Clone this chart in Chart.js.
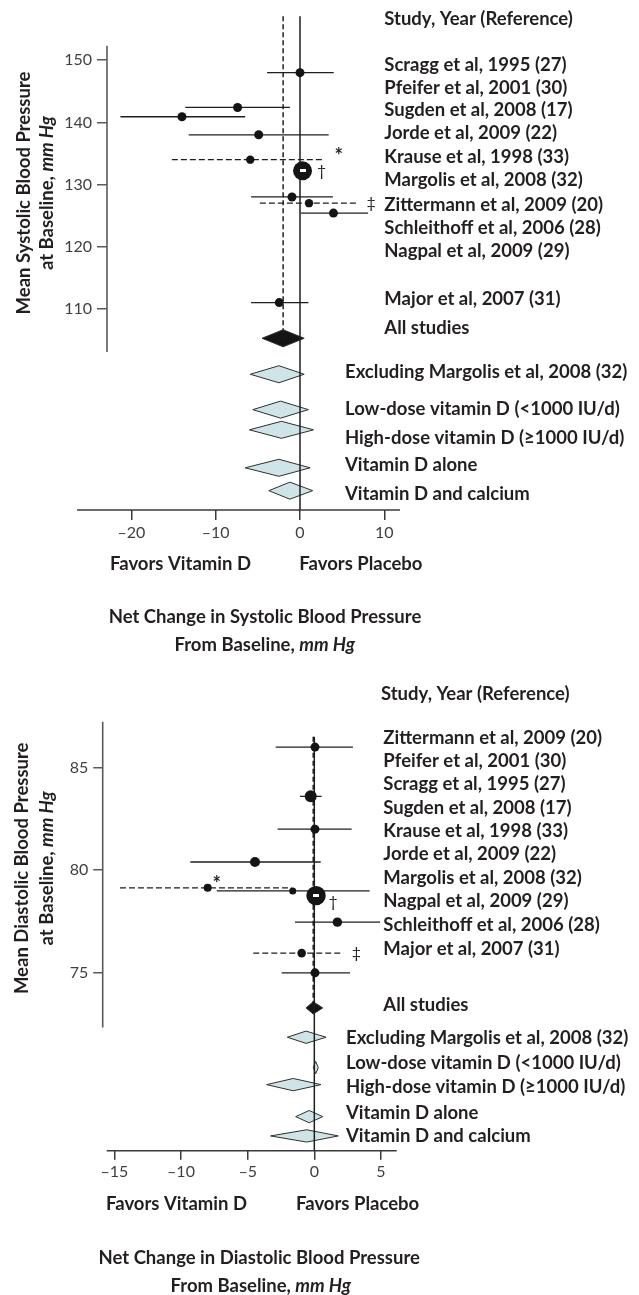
<!DOCTYPE html>
<html>
<head>
<meta charset="utf-8">
<title>Vitamin D and blood pressure</title>
<script src="https://cdn.jsdelivr.net/npm/chart.js@4.4.1/dist/chart.umd.min.js"></script>
<style>
  html, body { margin: 0; background: #fff; }
  #page { position: relative; width: 639px; height: 1295px; overflow: hidden; }
  canvas { position: absolute; left: 0; }
  #systolic { top: 0; }
  #diastolic { top: 650px; }
</style>
</head>
<body>
<div id="page">
  <canvas id="systolic" width="639" height="662"></canvas>
  <canvas id="diastolic" width="639" height="645"></canvas>
</div>
<script>
// ---- systolic panel ----
const sysStudies = ["Scragg et al, 1995 (27)", "Pfeifer et al, 2001 (30)", "Sugden et al, 2008 (17)",
  "Jorde et al, 2009 (22)", "Krause et al, 1998 (33)", "Margolis et al, 2008 (32)",
  "Zittermann et al, 2009 (20)", "Schleithoff et al, 2006 (28)", "Nagpal et al, 2009 (29)",
  "Major et al, 2007 (31)"];
const sysBaseline = [148.0, 142.4, 140.9, 138.0, 134.0, 132.2, 128.0, 127.0, 125.4, 111.0];
const sysEffect   = [0.0, -7.4, -14.0, -4.9, -5.9, 0.3, -0.95, 1.07, 3.97, -2.46];
const sysLower    = [-3.9, -13.6, -21.3, -13.2, -15.2, -0.7, -5.8, -4.76, 0.1, -5.8];
const sysUpper    = [4.0, -1.2, -6.5, 3.4, 2.7, 1.3, 3.9, 6.9, 8.06, 1.0];

// ---- diastolic panel ----
const diaStudies = ["Zittermann et al, 2009 (20)", "Pfeifer et al, 2001 (30)", "Scragg et al, 1995 (27)",
  "Sugden et al, 2008 (17)", "Krause et al, 1998 (33)", "Jorde et al, 2009 (22)",
  "Margolis et al, 2008 (32)", "Nagpal et al, 2009 (29)", "Schleithoff et al, 2006 (28)",
  "Major et al, 2007 (31)"];
const diaBaseline = [86.0, 83.6, 82.0, 80.4, 79.14, 78.99, 78.76, 77.47, 75.96, 75.0];
const diaEffect   = [0.05, -0.27, 0.05, -4.45, -8.0, -1.62, 0.13, 1.73, -0.95, 0.05];
const diaLower    = [-2.9, -1.07, -2.75, -9.3, -14.58, -7.32, -0.4, -1.45, -4.58, -2.45];
const diaUpper    = [2.9, 0.55, 2.8, 0.48, -1.7, 4.15, 0.6, 4.93, 2.18, 2.68];

// pooled / subgroup estimates (row = position on the baseline axis)
const summaryNames = ["All studies", "Excluding Margolis et al, 2008 (32)",
  "Low-dose vitamin D (<1000 IU/d)", "High-dose vitamin D (\u22651000 IU/d)",
  "Vitamin D alone", "Vitamin D and calcium"];
const sysSummaryRow  = [105.26, 99.47, 93.78, 90.53, 84.42, 80.74];
const sysSummaryMid  = [-2.0, -2.5, -2.3, -2.2, -2.5, -1.2];
const sysSummaryLow  = [-4.5, -5.9, -5.6, -6.0, -6.5, -3.7];
const sysSummaryHigh = [0.5, 0.5, 1.0, 1.6, 1.2, 1.5];
const diaSummaryRow  = [73.29, 71.86, 70.38, 69.55, 67.99, 67.05];
const diaSummaryMid  = [-0.08, -0.62, 0.1, -1.58, -0.38, -0.57];
const diaSummaryLow  = [-0.62, -2.03, -0.07, -3.58, -1.4, -3.28];
const diaSummaryHigh = [0.63, 0.88, 0.3, 0.5, 0.63, 1.8];

const sysYTicks = [110, 120, 130, 140, 150];
const sysXTicks = [-20, -10, 0, 10];
const diaYTicks = [75, 80, 85];
const diaXTicks = [-15, -10, -5, 0, 5];

// styling
const sysDashed = [false, false, false, false, true, false, false, true, false, false];
const diaDashed = [false, false, false, false, true, false, false, false, true, false];
const sysDotSize = [4.5, 4.5, 4.5, 4.5, 4.2, 9.5, 4.5, 4.2, 4.5, 4.5];
const diaDotSize = [4.5, 6, 4.5, 5, 4, 3.5, 9.7, 4.7, 4.3, 4.5];

const ink = "#231f20";
const boldFont = italic => (italic ? "italic " : "") + "700 18.5px Lato";

function drawParts(ctx, parts, x, y, align) {
  const widths = parts.map(p => { ctx.font = boldFont(p.i); return ctx.measureText(p.t).width; });
  const total = widths.reduce((a, b) => a + b, 0);
  let cx = align === "center" ? x - total / 2 : x;
  ctx.textAlign = "left";
  ctx.textBaseline = "alphabetic";
  parts.forEach((p, k) => { ctx.font = boldFont(p.i); ctx.fillText(p.t, cx, y); cx += widths[k]; });
}

function makeDecor(d) {
  return {
    id: "forestDecor",
    beforeDatasetsDraw(chart) {
      const { ctx, chartArea: a, scales: { x, y } } = chart;
      ctx.save();
      ctx.lineWidth = 1.6;
      ctx.strokeStyle = "#5a5a5a";
      ctx.beginPath();
      ctx.moveTo(a.left, y.getPixelForValue(d.yAxisSpan[0]));
      ctx.lineTo(a.left, y.getPixelForValue(d.yAxisSpan[1]));
      ctx.stroke();
      ctx.strokeStyle = "#3a3a3a";
      ctx.beginPath();
      ctx.moveTo(x.getPixelForValue(d.xAxisFrom), a.bottom);
      ctx.lineTo(a.right, a.bottom);
      ctx.stroke();
      ctx.restore();
    },
    afterDatasetsDraw(chart) {
      const { ctx, scales: { x, y } } = chart;
      ctx.save();
      // white bar inside the largest study marker
      const bx = x.getPixelForValue(d.effect[d.bigIndex]);
      const by = y.getPixelForValue(d.baseline[d.bigIndex]);
      ctx.fillStyle = "#fff";
      ctx.fillRect(Math.round(bx - 3), Math.round(by - 1.5), 6, 3);
      // footnote marks
      ctx.fillStyle = ink;
      ctx.textAlign = "center";
      ctx.textBaseline = "middle";
      d.marks.forEach(m => {
        const vx = m.at === "hi" ? d.upper[m.i] : d.effect[m.i];
        ctx.font = m.s === "*" ? "700 20px Lato" : "400 16px Lato";
        ctx.fillText(m.s, x.getPixelForValue(vx) + m.dx, y.getPixelForValue(d.baseline[m.i]) + m.dy);
      });
      ctx.restore();
    },
    afterDraw(chart) {
      const { ctx } = chart;
      ctx.save();
      ctx.fillStyle = ink;
      d.texts.forEach(t => {
        if (t.rot) {
          ctx.save();
          ctx.translate(t.x, t.y);
          ctx.rotate(-Math.PI / 2);
          drawParts(ctx, t.parts, 0, 0, "center");
          ctx.restore();
        } else {
          drawParts(ctx, t.parts, t.x, t.y + 6.8, t.align || "left");
        }
      });
      ctx.restore();
    }
  };
}

function drawForest(id, d) {
  const datasets = [];
  d.summaryRow.forEach((row, i) => {
    const lo = d.summaryLow[i], mid = d.summaryMid[i], hi = d.summaryHigh[i], h = d.diamondHalf;
    datasets.push({
      data: [{x: lo, y: row}, {x: mid, y: row + h}, {x: hi, y: row}, {x: mid, y: row - h}, {x: lo, y: row}],
      showLine: true, fill: "shape", tension: 0,
      backgroundColor: i === 0 ? "#141414" : "#cfe4e7",
      borderColor: "#2e2e2e", borderWidth: 1, pointRadius: 0, order: 6
    });
  });
  datasets.push({
    data: [{x: 0, y: d.refTop}, {x: 0, y: d.yMin}],
    showLine: true, borderColor: "#1e1e1e", borderWidth: 1.5, pointRadius: 0, order: 3
  });
  datasets.push({
    data: [{x: d.summaryMid[0], y: d.refTop}, {x: d.summaryMid[0], y: d.pooledBottom}],
    showLine: true, borderColor: "#1e1e1e", borderWidth: 1.5, borderDash: [5, 3], pointRadius: 0, order: 3
  });
  d.baseline.forEach((b, i) => {
    datasets.push({
      data: [{x: d.lower[i], y: b}, {x: d.upper[i], y: b}],
      showLine: true, borderColor: "#1e1e1e", borderWidth: 1.3,
      borderDash: d.dashed[i] ? [6, 3] : [], pointRadius: 0, order: 4
    });
  });
  datasets.push({
    data: d.baseline.map((b, i) => ({x: d.effect[i], y: b})),
    pointRadius: d.dotSize, pointBackgroundColor: "#141414", pointBorderWidth: 0, order: 1
  });

  const tickFont = { family: "Lato", size: 16 };
  return new Chart(document.getElementById(id), {
    type: "scatter",
    data: { datasets },
    options: {
      responsive: false,
      animation: false,
      devicePixelRatio: 1,
      events: [],
      layout: { padding: { left: d.padLeft, right: d.padRight, top: 0, bottom: d.padBottom } },
      plugins: { legend: { display: false }, tooltip: { enabled: false } },
      scales: {
        x: {
          type: "linear", min: d.xMin, max: d.xMax,
          afterBuildTicks: s => { s.ticks = d.xTicks.map(v => ({ value: v })); },
          afterFit: s => { s.height = 40; s.paddingLeft = 0; s.paddingRight = 0; },
          border: { display: false },
          grid: { drawOnChartArea: false, drawTicks: true, tickLength: d.xTickLen, color: "#3a3a3a", lineWidth: 1.5 },
          ticks: {
            autoSkip: false, maxRotation: 0, padding: 3, color: "#3f3f3f", font: tickFont,
            callback: v => v < 0 ? "\u2013" + Math.abs(v) : String(v)
          }
        },
        y: {
          type: "linear", position: "left", min: d.yMin, max: d.yMax,
          afterBuildTicks: s => { s.ticks = d.yTicks.map(v => ({ value: v })); },
          afterFit: s => { s.width = 60; s.paddingTop = 0; s.paddingBottom = 0; },
          border: { display: false },
          grid: { drawOnChartArea: false, drawTicks: true, tickLength: d.yTickLen, color: "#5a5a5a", lineWidth: 1.5 },
          ticks: { autoSkip: false, padding: 5, color: "#3f3f3f", font: tickFont }
        }
      }
    },
    plugins: [makeDecor(d)]
  });
}

function labelTexts(studies, studyY, studyX, summaryY, summaryX) {
  const out = studies.map((s, i) => ({ parts: [{ t: s }], x: studyX, y: studyY[i] }));
  summaryNames.forEach((s, i) => out.push({ parts: [{ t: s }], x: i === 0 ? studyX : summaryX, y: summaryY[i] }));
  return out;
}

drawForest("systolic", {
  baseline: sysBaseline, effect: sysEffect, lower: sysLower, upper: sysUpper,
  summaryRow: sysSummaryRow, summaryMid: sysSummaryMid, summaryLow: sysSummaryLow, summaryHigh: sysSummaryHigh,
  xTicks: sysXTicks, yTicks: sysYTicks, dashed: sysDashed, dotSize: sysDotSize, bigIndex: 5,
  xMin: -22.89, xMax: 11.86, yMin: 77.63, yMax: 158.16,
  xAxisFrom: -26.44, yAxisSpan: [152.32, 103.05], refTop: 157.06, pooledBottom: 105.3,
  diamondHalf: 1.37, xTickLen: 10, yTickLen: 10,
  padLeft: 47, padRight: 239, padBottom: 112,
  marks: [
    { i: 4, at: "hi", s: "*", dx: 16, dy: -3 },
    { i: 5, at: "pt", s: "\u2020", dx: 19, dy: 0 },
    { i: 7, at: "hi", s: "\u2021", dx: 13, dy: 0 }
  ],
  texts: [
    { parts: [{ t: "Study, Year (Reference)" }], x: 384.3, y: 18.3 },
    ...labelTexts(sysStudies, [63.7, 86.7, 108.7, 131.7, 156, 179.3, 203.7, 227, 250, 298.3], 384.3,
      [326.7, 370.7, 408.3, 437, 464, 492.7], 345),
    { parts: [{ t: "Favors Vitamin D" }], x: 110, y: 562.7 },
    { parts: [{ t: "Favors Placebo" }], x: 299.3, y: 562.7 },
    { parts: [{ t: "Net Change in Systolic Blood Pressure" }], x: 265, y: 616, align: "center" },
    { parts: [{ t: "From Baseline, " }, { t: "mm Hg", i: true }], x: 264.7, y: 644, align: "center" },
    { parts: [{ t: "Mean Systolic Blood Pressure" }], x: 29.5, y: 193, rot: true },
    { parts: [{ t: "at Baseline, " }, { t: "mm Hg", i: true }], x: 53.3, y: 193, rot: true }
  ]
});

drawForest("diastolic", {
  baseline: diaBaseline, effect: diaEffect, lower: diaLower, upper: diaUpper,
  summaryRow: diaSummaryRow, summaryMid: diaSummaryMid, summaryLow: diaSummaryLow, summaryHigh: diaSummaryHigh,
  xTicks: diaXTicks, yTicks: diaYTicks, dashed: diaDashed, dotSize: diaDotSize, bigIndex: 6,
  xMin: -15.874, xMax: 6.18, yMin: 66.33, yMax: 90.26,
  xAxisFrom: -15.57, yAxisSpan: [87.23, 72.34], refTop: 86.51, pooledBottom: 73.53,
  diamondHalf: 0.30, xTickLen: 9, yTickLen: 9.5,
  padLeft: 42.7, padRight: 242.3, padBottom: 104.3,
  marks: [
    { i: 4, at: "pt", s: "*", dx: 9, dy: -3 },
    { i: 6, at: "pt", s: "\u2020", dx: 17, dy: 6 },
    { i: 8, at: "hi", s: "\u2021", dx: 13, dy: 0 }
  ],
  texts: [
    { parts: [{ t: "Study, Year (Reference)" }], x: 381, y: 43.3 },
    ...labelTexts(diaStudies, [87.3, 110, 133, 156.7, 180, 203.3, 227, 250, 273.7, 298.3], 383.3,
      [354, 387.3, 411.7, 436, 461.7, 485], 346),
    { parts: [{ t: "Favors Vitamin D" }], x: 106, y: 553.3 },
    { parts: [{ t: "Favors Placebo" }], x: 296, y: 553.3 },
    { parts: [{ t: "Net Change in Diastolic Blood Pressure" }], x: 259.2, y: 606.7, align: "center" },
    { parts: [{ t: "From Baseline, " }, { t: "mm Hg", i: true }], x: 260.8, y: 635, align: "center" },
    { parts: [{ t: "Mean Diastolic Blood Pressure" }], x: 28.3, y: 218.3, rot: true },
    { parts: [{ t: "at Baseline, " }, { t: "mm Hg", i: true }], x: 53.3, y: 218.3, rot: true }
  ]
});
</script>
</body>
</html>
